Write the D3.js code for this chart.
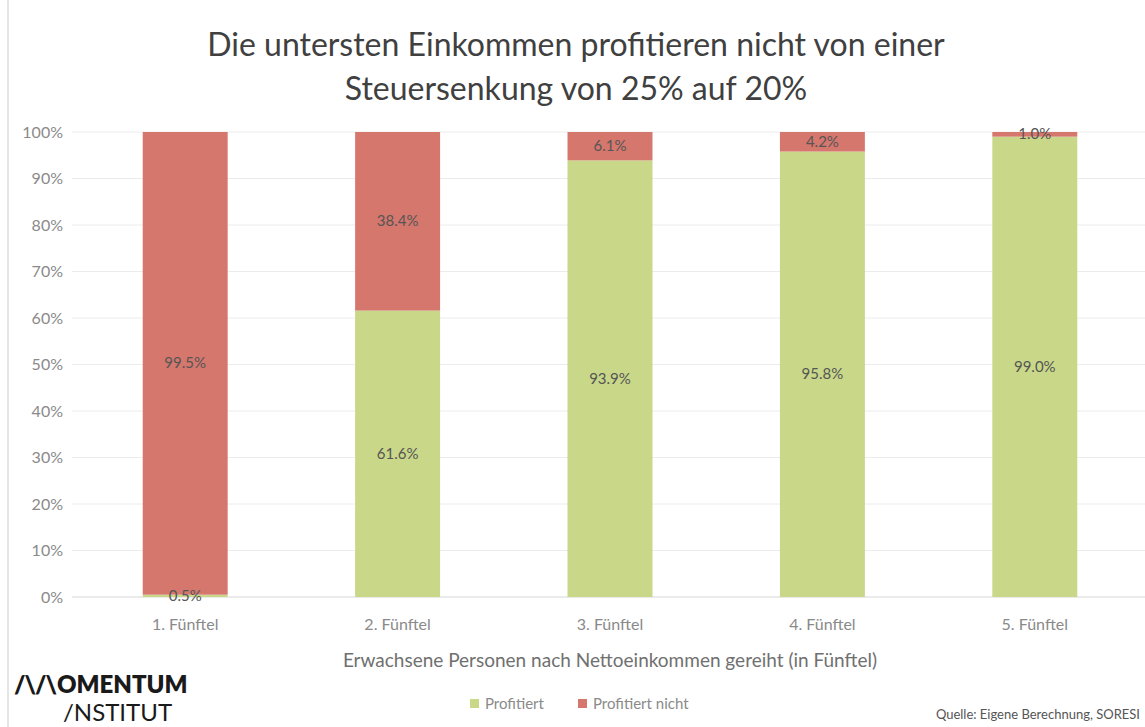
<!DOCTYPE html>
<html>
<head>
<meta charset="utf-8">
<script src="https://cdn.jsdelivr.net/npm/d3@7"></script>
<style>
  html, body { margin: 0; padding: 0; background: #fff; }
  svg { display: block; font-family: "Lato", "Noto Sans", sans-serif; }
</style>
</head>
<body>
<svg id="chart" width="1145" height="727"></svg>
<script>
// Share of adults by net-income quintile who benefit from the tax cut
const categories = ["1. Fünftel", "2. Fünftel", "3. Fünftel", "4. Fünftel", "5. Fünftel"];
const profitiert = [0.5, 61.6, 93.9, 95.8, 99.0];
const profitiertNicht = [99.5, 38.4, 6.1, 4.2, 1.0];
const yTicks = [0, 10, 20, 30, 40, 50, 60, 70, 80, 90, 100];
const seriesNames = ["Profitiert", "Profitiert nicht"];

const colors = { "Profitiert": "#c9d888", "Profitiert nicht": "#d5776d" };
const FONT = "Lato, 'Noto Sans', sans-serif";

const svg = d3.select("#chart");
const W = 1145, H = 727;
const margin = { top: 132, right: 4, bottom: 130, left: 79 };

const x = d3.scaleBand().domain(categories).range([margin.left, W - margin.right]).paddingInner(0.6).paddingOuter(0.3);
const y = d3.scaleLinear().domain([0, 100]).range([H - margin.bottom, margin.top]);

// left frame line
svg.append("line").attr("x1", 8).attr("x2", 8).attr("y1", 0).attr("y2", H)
  .attr("stroke", "#e6e6e6").attr("stroke-width", 2);

// title
const title = svg.append("text").attr("text-anchor", "middle").attr("fill", "#404040")
  .attr("font-size", 32).attr("font-family", FONT);
title.append("tspan").attr("x", 576).attr("y", 56).text("Die untersten Einkommen profitieren nicht von einer");
title.append("tspan").attr("x", 576).attr("y", 100).text("Steuersenkung von 25% auf 20%");

// gridlines
svg.append("g").selectAll("line").data(yTicks).join("line")
  .attr("x1", 72).attr("x2", W)
  .attr("y1", d => y(d)).attr("y2", d => y(d))
  .attr("stroke", d => d === 0 ? "#d6d6d6" : "#ececec").attr("stroke-width", 1);

// y axis labels
const yAxis = d3.axisLeft(y).tickValues(yTicks).tickFormat(d => d + "%").tickSize(0).tickPadding(0);
const gy = svg.append("g").attr("transform", `translate(63,0)`).call(yAxis);
gy.select(".domain").remove();
gy.selectAll("text").attr("fill", "#8a8a8a").attr("font-size", 16).attr("font-family", FONT);

// stacked bars
const rows = categories.map((c, i) => ({ cat: c, "Profitiert": profitiert[i], "Profitiert nicht": profitiertNicht[i] }));
const stack = d3.stack().keys(seriesNames)(rows);

const layers = svg.append("g").selectAll("g").data(stack).join("g")
  .attr("fill", d => colors[d.key]);
layers.selectAll("rect").data(d => d).join("rect")
  .attr("x", d => x(d.data.cat))
  .attr("width", x.bandwidth())
  .attr("y", d => y(d[1]))
  .attr("height", d => y(d[0]) - y(d[1]));

// value labels
const fmt = v => v.toFixed(1) + "%";
const labels = svg.append("g").attr("font-size", 15).attr("fill", "#555")
  .attr("text-anchor", "middle").attr("font-family", FONT);
stack.forEach(layer => {
  layer.forEach(d => {
    const v = d[1] - d[0];
    labels.append("text")
      .attr("x", x(d.data.cat) + x.bandwidth() / 2)
      .attr("y", (y(d[0]) + y(d[1])) / 2 + 5)
      .text(fmt(v));
  });
});

// x axis labels
const xAxis = d3.axisBottom(x).tickSize(0).tickPadding(0);
const gx = svg.append("g").attr("transform", `translate(0,${H - margin.bottom + 33})`).call(xAxis);
gx.select(".domain").remove();
gx.selectAll("text").attr("fill", "#8a8a8a").attr("font-size", 16).attr("dy", 0).attr("font-family", FONT);

// axis title
svg.append("text").attr("x", 610).attr("y", 667).attr("text-anchor", "middle")
  .attr("fill", "#707070").attr("font-size", 19).attr("font-family", FONT)
  .text("Erwachsene Personen nach Nettoeinkommen gereiht (in Fünftel)");

// legend
const legend = svg.append("g").attr("font-size", 15).attr("fill", "#8a8a8a").attr("font-family", FONT);
const legX = [470, 578];
seriesNames.forEach((s, i) => {
  legend.append("rect").attr("x", legX[i]).attr("y", 699).attr("width", 9).attr("height", 9).attr("fill", colors[s]);
  legend.append("text").attr("x", legX[i] + 15).attr("y", 709).text(s);
});

// source
svg.append("text").attr("x", 1140).attr("y", 719).attr("text-anchor", "end")
  .attr("fill", "#555").attr("font-size", 13).attr("font-family", FONT)
  .text("Quelle: Eigene Berechnung, SORESI");

// logo
const logo1 = svg.append("text").attr("x", 14).attr("y", 693).attr("fill", "#1a1a1a")
  .attr("font-size", 24).attr("font-weight", 800).attr("font-family", FONT);
logo1.append("tspan").attr("letter-spacing", -1).text("/\\/\\");
logo1.append("tspan").attr("dx", 1).text("OMENTUM");
svg.append("text").attr("x", 63).attr("y", 721).attr("fill", "#1a1a1a")
  .attr("font-size", 24).attr("font-weight", 400).attr("font-family", FONT)
  .text("/NSTITUT");
</script>
</body>
</html>
